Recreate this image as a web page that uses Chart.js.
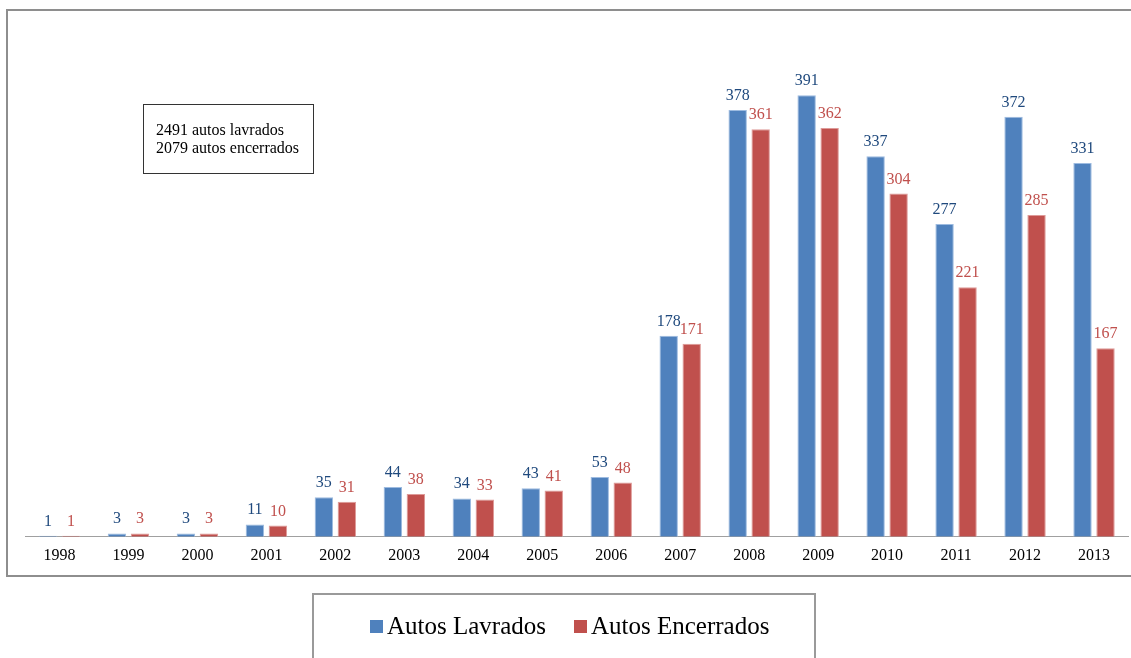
<!DOCTYPE html>
<html>
<head>
<meta charset="utf-8">
<script src="https://cdn.jsdelivr.net/npm/chart.js@4.4.1/dist/chart.umd.min.js"></script>
<style>
  html, body { margin: 0; padding: 0; background: #fff; overflow: hidden; }
  #wrap { position: relative; width: 1131px; height: 658px; }
  #frame { position: absolute; left: 6px; top: 9px; width: 1140px; height: 564px; border: 2px solid #8e8e8e; }
  #note { position: absolute; left: 143px; top: 104px; width: 171px; height: 70px; border: 1px solid #333;
          font: 16px "Liberation Serif", serif; color: #000; box-sizing: border-box; padding: 16px 0 0 12px; line-height: 18px; }
  #legendBox { position: absolute; left: 312px; top: 593px; width: 500px; height: 120px; border: 2px solid #9a9a9a; }
  canvas { position: absolute; left: 0; top: 0; }
</style>
</head>
<body>
<div id="wrap">
  <div id="frame"></div>
  <div id="legendBox"></div>
  <canvas id="c" width="1131" height="658"></canvas>
  <div id="note">2491 autos lavrados<br>2079 autos encerrados</div>
</div>
<script>
const years = ['1998','1999','2000','2001','2002','2003','2004','2005','2006','2007','2008','2009','2010','2011','2012','2013'];
const autosLavrados = [1, 3, 3, 11, 35, 44, 34, 43, 53, 178, 378, 391, 337, 277, 372, 331];
const autosEncerrados = [1, 3, 3, 10, 31, 38, 33, 41, 48, 171, 361, 362, 304, 221, 285, 167];

const blue = '#4F81BD';
const red = '#C0504D';
const blueEdge = '#9DBBE0';
const redEdge = '#DE9A98';
const blueText = '#1F497D';
const serif = '"Liberation Serif", "Times New Roman", serif';

// value labels above each bar
const valueLabels = {
  id: 'valueLabels',
  afterDatasetsDraw(chart) {
    const ctx = chart.ctx;
    ctx.save();
    ctx.font = '16px ' + serif;
    ctx.textAlign = 'center';
    ctx.textBaseline = 'alphabetic';
    chart.data.datasets.forEach((ds, i) => {
      const meta = chart.getDatasetMeta(i);
      ctx.fillStyle = ds.labelColor;
      meta.data.forEach((bar, j) => {
        ctx.fillText(String(ds.data[j]), bar.x, bar.y - 10);
      });
    });
    ctx.restore();
  }
};

// legend row drawn under the plot
const legendRow = {
  id: 'legendRow',
  afterDraw(chart) {
    const ctx = chart.ctx;
    ctx.save();
    ctx.font = '25px ' + serif;
    ctx.textBaseline = 'alphabetic';
    let x = 370;
    const sq = 13, top = 620, base = 634;
    chart.data.datasets.forEach(ds => {
      ctx.fillStyle = ds.backgroundColor;
      ctx.fillRect(x, top, sq, sq);
      x += sq + 4;
      ctx.fillStyle = '#000';
      ctx.fillText(ds.label, x, base);
      x += ctx.measureText(ds.label).width + 28;
    });
    ctx.restore();
  }
};

new Chart(document.getElementById('c'), {
  type: 'bar',
  data: {
    labels: years,
    datasets: [
      { label: 'Autos Lavrados', data: autosLavrados, backgroundColor: blue, borderColor: blueEdge, borderWidth: 1,
        labelColor: blueText, categoryPercentage: 0.667, barPercentage: 0.8 },
      { label: 'Autos Encerrados', data: autosEncerrados, backgroundColor: red, borderColor: redEdge, borderWidth: 1,
        labelColor: red, categoryPercentage: 0.667, barPercentage: 0.8 }
    ]
  },
  options: {
    responsive: false,
    animation: false,
    layout: { padding: { left: 25, right: 2.5, top: 40, bottom: 84 } },
    plugins: { legend: { display: false }, tooltip: { enabled: false } },
    scales: {
      x: {
        grid: { display: false, drawTicks: false },
        border: { display: true, color: '#a0a0a0', width: 1 },
        ticks: { color: '#000', font: { family: serif, size: 16 }, padding: 9, maxRotation: 0 }
      },
      y: {
        display: false,
        min: 0,
        max: 440
      }
    }
  },
  plugins: [valueLabels, legendRow]
});
</script>
</body>
</html>
